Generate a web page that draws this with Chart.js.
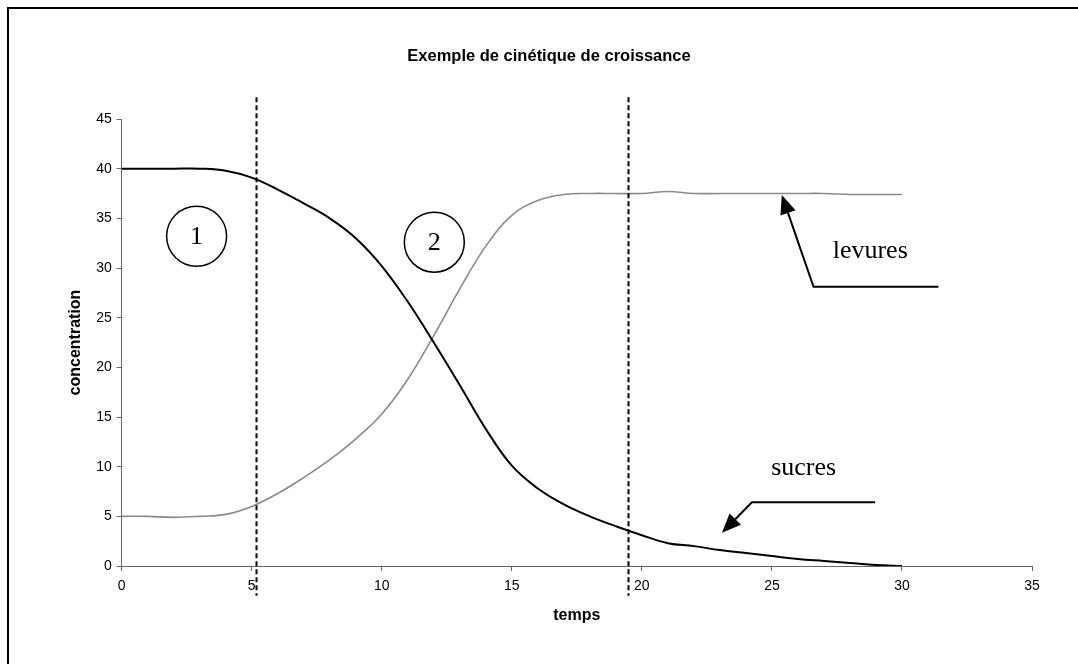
<!DOCTYPE html>
<html>
<head>
<meta charset="utf-8">
<script src="https://cdn.jsdelivr.net/npm/chart.js@4.4.1/dist/chart.umd.min.js"></script>
<style>
  html, body { margin: 0; padding: 0; background: #fff; }
  #wrap { position: relative; width: 1078px; height: 664px; }
</style>
</head>
<body>
<div id="wrap"><canvas id="c" width="1078" height="664"></canvas></div>
<script>
// ---- data ----
const times = [0,1,2,3,4,5,6,7,8,9,10,11,12,13,14,15,16,17,18,19,20,21,22,23,24,25,26,27,28,29,30];
const sucres = [40,40,40,40,39.8,39.1,37.9,36.5,35.0,33.0,30.2,26.6,22.5,18.2,13.8,10.1,7.8,6.2,5.0,4.0,3.1,2.3,2.0,1.6,1.3,1.0,0.7,0.5,0.3,0.1,0];
const levures = [5,5,4.9,5,5.2,6.0,7.3,8.9,10.7,12.8,15.3,18.8,23.2,27.9,32.2,35.3,36.8,37.4,37.5,37.5,37.5,37.7,37.5,37.5,37.5,37.5,37.5,37.5,37.4,37.4,37.4];
const xTicks = [0,5,10,15,20,25,30,35];
const yTicks = [0,5,10,15,20,25,30,35,40,45];
const phaseBoundaries = [5.15, 19.46];
const phaseLabels = [{text: '1', x: 2.88, y: 33.2}, {text: '2', x: 12.02, y: 32.6}];
const arrowNotes = [
  {text: 'levures', tx: 28.78, ty: 31.65, tip: [25.38, 37.36], corner: [26.6, 28.1], end: [31.4, 28.1]},
  {text: 'sucres', tx: 26.22, ty: 9.84, tip: [23.08, 3.35], corner: [24.23, 6.41], end: [28.97, 6.41]}
];

const toPts = (xs, ys) => xs.map((x, i) => ({x: x, y: ys[i]}));
const SANS = 'Arial, "Liberation Sans", sans-serif';

const annot = {
  id: 'annot',
  afterDatasetsDraw(chart) {
    const ctx = chart.ctx, xs = chart.scales.x, ys = chart.scales.y;
    ctx.save();
    // dashed phase lines
    ctx.strokeStyle = '#000';
    ctx.lineWidth = 2;
    ctx.setLineDash([5, 3]);
    phaseBoundaries.forEach(v => {
      const px = Math.round(xs.getPixelForValue(v)) + 0.5;
      ctx.beginPath();
      ctx.moveTo(px, ys.getPixelForValue(47.2));
      ctx.lineTo(px, ys.getPixelForValue(-3.0));
      ctx.stroke();
    });
    ctx.setLineDash([]);
    // circles
    ctx.lineWidth = 1.5;
    ctx.fillStyle = '#000';
    ctx.font = '26px "Liberation Serif", "Times New Roman", serif';
    ctx.textAlign = 'center';
    ctx.textBaseline = 'middle';
    phaseLabels.forEach(p => {
      const cx = xs.getPixelForValue(p.x), cy = ys.getPixelForValue(p.y);
      ctx.beginPath();
      ctx.arc(cx, cy, 30, 0, Math.PI * 2);
      ctx.stroke();
      ctx.fillText(p.text, cx, cy + 1);
    });
    // arrows
    ctx.lineWidth = 2;
    arrowNotes.forEach(a => {
      const tx = xs.getPixelForValue(a.tip[0]), ty = ys.getPixelForValue(a.tip[1]);
      const cx = xs.getPixelForValue(a.corner[0]), cy = ys.getPixelForValue(a.corner[1]);
      const ex = xs.getPixelForValue(a.end[0]), ey = ys.getPixelForValue(a.end[1]);
      const ang = Math.atan2(ty - cy, tx - cx);
      const L = 19, W = 8;
      const bx = tx - L * Math.cos(ang), by = ty - L * Math.sin(ang);
      ctx.beginPath();
      ctx.moveTo(ex, ey);
      ctx.lineTo(cx, cy);
      ctx.lineTo(bx, by);
      ctx.stroke();
      ctx.beginPath();
      ctx.moveTo(tx, ty);
      ctx.lineTo(bx + W * Math.sin(ang), by - W * Math.cos(ang));
      ctx.lineTo(bx - W * Math.sin(ang), by + W * Math.cos(ang));
      ctx.closePath();
      ctx.fill();
      ctx.fillText(a.text, xs.getPixelForValue(a.tx), ys.getPixelForValue(a.ty));
    });
    // frame (top and left edges)
    ctx.lineWidth = 2;
    ctx.beginPath();
    ctx.moveTo(1078, 8);
    ctx.lineTo(8, 8);
    ctx.lineTo(8, 664);
    ctx.stroke();
    ctx.restore();
  }
};

new Chart(document.getElementById('c'), {
  type: 'line',
  data: {
    datasets: [
      {label: 'sucres', data: toPts(times, sucres), borderColor: '#000', borderWidth: 2, pointRadius: 0, tension: 0.4, fill: false},
      {label: 'levures', data: toPts(times, levures), borderColor: '#8a8a8a', borderWidth: 1.6, pointRadius: 0, tension: 0.4, fill: false}
    ]
  },
  options: {
    responsive: false,
    animation: false,
    devicePixelRatio: 1,
    layout: {padding: {left: 66, right: 46, top: 32, bottom: 39}},
    plugins: {
      legend: {display: false},
      tooltip: {enabled: false},
      title: {
        display: true,
        text: 'Exemple de cinétique de croissance',
        color: '#000',
        font: {family: SANS, size: 16.5, weight: 'bold'},
        padding: {top: 15, bottom: 52.2}
      }
    },
    scales: {
      x: {
        type: 'linear', min: 0, max: 35,
        afterBuildTicks: s => { s.ticks = xTicks.map(v => ({value: v})); },
        afterFit: s => { s.height = 59; },
        grid: {drawOnChartArea: false, drawTicks: true, tickLength: 5, color: '#666', tickColor: '#666'},
        border: {color: '#666', width: 1},
        ticks: {color: '#000', padding: 7, maxRotation: 0, font: {family: SANS, size: 14}},
        title: {display: true, text: 'temps', color: '#000', padding: 0, font: {family: SANS, size: 16, weight: 'bold'}}
      },
      y: {
        type: 'linear', min: 0, max: 45,
        afterBuildTicks: s => { s.ticks = yTicks.map(v => ({value: v})); },
        afterFit: s => { s.width = 55.7; },
        grid: {drawOnChartArea: false, drawTicks: true, tickLength: 5, color: '#666', tickColor: '#666'},
        border: {color: '#666', width: 1},
        ticks: {color: '#000', padding: 5, font: {family: SANS, size: 14}},
        title: {display: true, text: 'concentration', color: '#000', padding: 0, font: {family: SANS, size: 16, weight: 'bold'}}
      }
    }
  },
  plugins: [annot]
});
</script>
</body>
</html>
